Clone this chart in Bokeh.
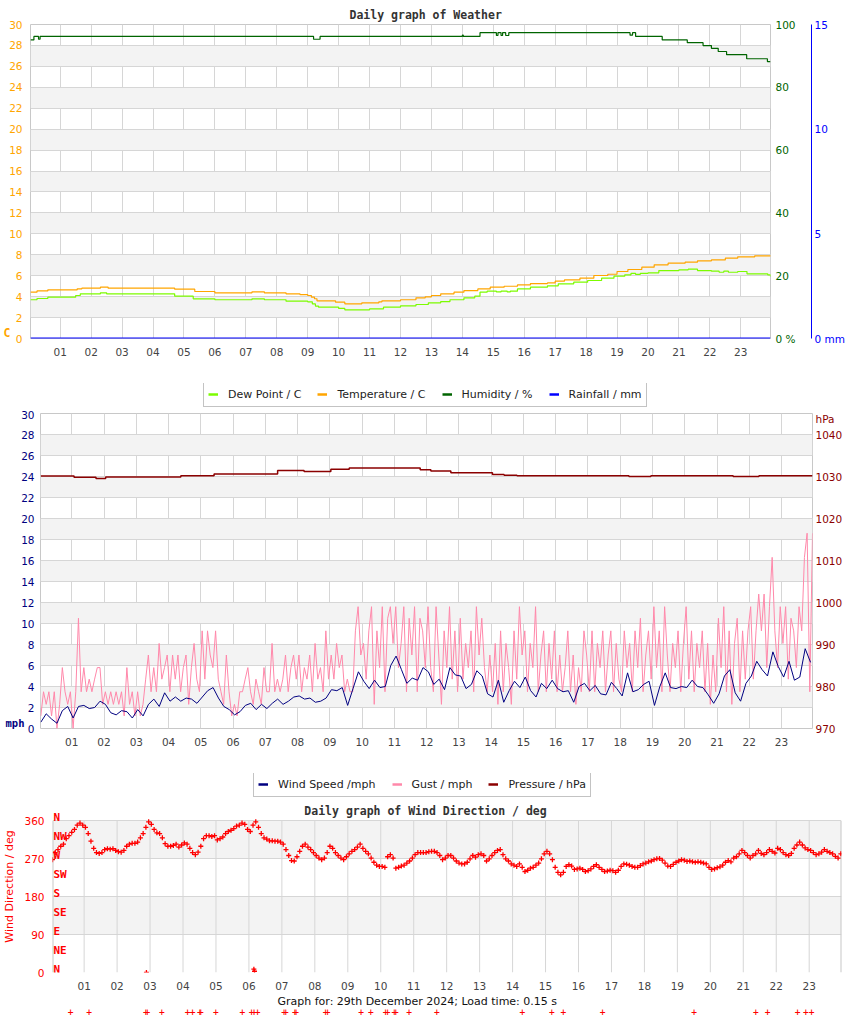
import numpy as np
from bokeh.plotting import figure
from bokeh.layouts import column, row
from bokeh.models import (LinearAxis, Range1d, FixedTicker, PrintfTickFormatter, Label, LabelSet,
                          Legend, LegendItem, ColumnDataSource, Title)
from bokeh.core.properties import value
from bokeh.embed import file_html
from bokeh.resources import INLINE

# ---------------------------------------------------------------- data
HOUR_TICKS = list(range(1, 24))
TEMP_TICKS = list(range(0, 31, 2))
HUM_TICKS = [0, 20, 40, 60, 80, 100]
RAIN_TICKS = [0, 5, 10, 15]
WIND_TICKS = list(range(0, 31, 2))
PRES_TICKS = [970, 980, 990, 1000, 1010, 1020, 1030, 1040]
PRES_UNIT_AT = 1043.7
DIR_TICKS = [0, 90, 180, 270, 360]
COMPASS_NAMES = ["N", "NE", "E", "SE", "S", "SW", "W", "NW", "N"]
COMPASS_DEG = [0, 45, 90, 135, 180, 225, 270, 315, 360]

# chart 1 (step series: hour, value)
TEMP_T = [0.04, 0.25, 0.6, 1.55, 1.7, 2.3, 2.55, 4.7, 5.35, 6.0, 7.2, 7.6, 8.3, 8.75, 9.0, 9.12,
          9.22, 9.3, 9.9, 10.2, 10.75, 11.3, 11.4, 12.0, 12.5, 12.8, 13.0, 13.3, 13.73, 14.05, 14.5,
          14.9, 15.35, 15.78, 16.2, 16.75, 17.0, 17.3, 17.8, 18.25, 18.7, 19.0, 19.35, 19.8, 20.2,
          20.65, 21.2, 21.6, 22.05, 22.5, 22.9, 23.45, 23.96]
TEMP_V = [4.43, 4.55, 4.65, 4.75, 4.81, 4.9, 4.81, 4.71, 4.49, 4.36, 4.46, 4.36, 4.27, 4.2, 4.11, 3.95,
          3.8, 3.6, 3.47, 3.31, 3.41, 3.5, 3.6, 3.7, 3.89, 3.98, 4.11, 4.27, 4.43, 4.58, 4.74,
          4.9, 4.99, 5.12, 5.25, 5.31, 5.48, 5.6, 5.76, 6.02, 6.14, 6.4, 6.59, 6.81, 7.04,
          7.2, 7.29, 7.42, 7.51, 7.67, 7.8, 7.9, 7.86]
DEW_T = [0.04, 0.25, 0.6, 1.5, 1.65, 2.3, 2.5, 4.7, 5.3, 6.0, 7.2, 7.6, 8.3, 9.0, 9.15, 9.25, 9.35,
         10.0, 10.2, 11.0, 11.45, 12.0, 12.5, 12.9, 13.3, 13.6, 14.05, 14.4, 14.57, 14.8, 15.1,
         15.25, 15.45, 15.55, 15.78, 16.2, 16.75, 17.1, 17.6, 18.05, 18.5, 18.9, 19.25, 19.45,
         19.6, 19.75, 20.0, 20.35, 21.0, 21.3, 21.6, 22.05, 22.3, 22.45, 22.6, 22.9, 23.2, 23.87, 23.96]
DEW_V = [3.7, 3.82, 3.95, 4.11, 4.27, 4.36, 4.27, 4.04, 3.79, 3.7, 3.79, 3.7, 3.57, 3.5, 3.3, 3.1, 2.99,
         2.87, 2.74, 2.83, 2.99, 3.12, 3.25, 3.41, 3.53, 3.7, 3.89, 4.04, 4.43, 4.52, 4.45,
         4.52, 4.45, 4.52, 4.74, 4.9, 5.03, 5.22, 5.38, 5.54, 5.76, 5.95, 6.08, 6.22,
         6.12, 6.22, 6.27, 6.49, 6.56, 6.62, 6.49, 6.43, 6.33, 6.43, 6.33, 6.4, 6.18, 6.08, 5.92]
HUM_T = [0.04, 0.15, 0.3, 0.35, 9.19, 9.4, 14.0, 14.03, 14.57, 15.1, 15.15, 15.25, 15.3, 15.4, 15.5,
         19.42, 19.5, 19.6, 20.46, 21.27, 21.78, 22.05, 22.27, 22.54, 23.19, 23.86, 23.96]
HUM_V = [95.1, 96.2, 95.3, 96.2, 95.3, 96.2, 96.6, 96.2, 97.4, 96.5, 97.4, 96.5, 97.4, 96.5, 97.4,
         96.6, 97.4, 96.2, 95.1, 94.2, 93.3, 92.4, 91.4, 90.4, 89.1, 88.2, 88.2]
RAIN_T = [0.04, 23.96]
RAIN_V = [0.0, 0.0]

# chart 2: wind speed every 10 min, gust every 5 min, pressure steps
WIND_V = [
    0.6, 1.4, 0.9, 0.5, 1.7, 2.1,
    1.0, 2.1, 2.2, 1.9, 2.0, 2.6,
    2.3, 1.5, 1.3, 1.7, 1.6, 1.0,
    1.8, 1.2, 2.3, 2.8, 2.1, 3.4,
    2.6, 3.0, 2.6, 2.9, 2.8, 2.4,
    3.0, 3.6, 3.9, 2.9, 2.1, 1.8,
    1.3, 1.6, 2.2, 2.4, 1.8, 2.3,
    1.9, 2.4, 2.8, 2.3, 2.6, 3.0,
    3.1, 2.8, 2.9, 2.5, 2.6, 2.9,
    3.7, 3.6, 3.9, 2.2, 3.8, 5.4,
    4.5, 3.8, 4.6, 3.9, 4.0, 6.0,
    6.9, 5.6, 4.3, 4.8, 4.6, 5.8,
    5.4, 4.2, 4.7, 3.7, 5.8, 5.1,
    5.0, 3.8, 4.2, 5.5, 5.0, 3.3,
    3.0, 4.6, 2.5, 3.6, 4.5, 3.9,
    4.9, 3.6, 3.0, 4.3, 3.8, 4.6,
    3.8, 3.5, 3.6, 2.5, 4.0, 4.3,
    3.6, 4.1, 3.3, 3.2, 4.4, 3.8,
    3.1, 5.3, 3.5, 3.7, 4.2, 4.5,
    2.2, 4.0, 5.3, 3.9, 3.8, 4.0,
    3.9, 4.6, 4.0, 3.9, 3.2, 2.4,
    3.3, 5.0, 5.6, 3.4, 2.6, 4.3,
    5.0, 6.4, 5.6, 5.0, 7.3, 5.9,
    4.9, 6.4, 4.6, 4.9, 7.6, 6.3,
]
GUST_V = [
    1.2, 3.5, 2.3, 3.5, 1.2, 3.5, 0.0, 2.3, 5.8, 3.5, 2.3, 3.5,
    0.0, 3.5, 10.5, 3.5, 5.8, 3.5, 4.7, 3.5, 4.7, 5.8, 5.8, 2.3,
    3.5, 2.3, 3.5, 2.3, 3.5, 2.3, 3.5, 1.2, 5.8, 2.3, 3.5, 1.2,
    3.5, 1.2, 2.3, 4.7, 7.0, 3.5, 5.8, 3.5, 8.1, 4.7, 5.8, 7.0,
    3.5, 7.0, 4.7, 7.0, 3.5, 5.8, 7.0, 2.3, 5.8, 8.1, 4.7, 3.5,
    9.3, 4.7, 9.3, 7.0, 5.8, 9.3, 4.7, 3.5, 2.3, 7.0, 3.5, 1.2,
    2.3, 1.2, 3.5, 3.5, 4.7, 5.8, 3.5, 2.3, 4.7, 3.5, 2.3, 5.8,
    3.5, 3.5, 8.1, 3.5, 4.7, 3.5, 4.7, 7.0, 3.5, 5.8, 7.0, 4.7,
    7.0, 3.5, 5.8, 4.7, 7.0, 3.5, 8.1, 4.7, 5.8, 3.5, 9.3, 4.7,
    7.0, 4.7, 8.1, 5.8, 7.0, 3.5, 4.7, 3.5, 3.5, 9.3, 11.6, 7.0,
    8.1, 4.7, 9.3, 11.6, 2.3, 9.3, 5.8, 11.6, 3.5, 10.5, 11.6, 8.1,
    11.6, 5.8, 8.1, 11.6, 3.5, 10.5, 7.0, 11.6, 3.5, 10.5, 9.3, 5.8,
    11.6, 5.8, 3.5, 11.6, 7.0, 2.3, 9.3, 5.8, 11.6, 4.7, 9.3, 3.5,
    10.5, 4.7, 8.1, 5.8, 9.3, 3.5, 11.6, 7.0, 10.5, 5.8, 3.5, 7.0,
    3.5, 8.1, 2.3, 9.3, 3.5, 8.1, 5.8, 2.3, 9.3, 4.7, 11.6, 7.0,
    9.3, 3.5, 8.1, 5.8, 11.6, 3.5, 7.0, 9.3, 3.5, 8.1, 4.7, 9.3,
    3.5, 7.0, 3.5, 5.8, 9.3, 3.5, 7.0, 2.3, 5.8, 3.5, 9.3, 7.0,
    3.5, 9.3, 3.5, 8.1, 5.8, 9.3, 3.5, 7.0, 9.3, 3.5, 8.1, 4.7,
    3.5, 9.3, 5.8, 8.1, 3.5, 9.3, 5.8, 10.5, 3.5, 7.0, 9.3, 4.7,
    11.6, 5.8, 9.3, 3.5, 11.6, 7.0, 3.5, 8.1, 5.8, 9.3, 3.5, 8.1,
    11.6, 4.7, 9.3, 3.5, 8.1, 5.8, 9.3, 3.5, 8.1, 2.3, 7.0, 3.5,
    10.5, 5.8, 11.6, 3.5, 9.3, 2.3, 8.1, 10.5, 3.5, 9.3, 4.7, 9.3,
    11.6, 4.7, 9.3, 12.8, 9.3, 12.8, 5.8, 11.6, 16.3, 9.3, 5.8, 11.6,
    8.1, 11.6, 4.7, 10.5, 9.3, 5.8, 11.6, 9.3, 16.3, 18.6, 3.5, 18.6,
]
PRES_T = [0.04, 1.07, 1.75, 2.05, 4.38, 5.41, 7.38, 8.2, 9.03, 9.6, 11.8, 12.13, 12.75, 14.04, 14.4,
          14.8, 18.27, 18.95, 21.5, 22.3, 23.96]
PRES_V = [1030.1, 1029.8, 1029.5, 1029.9, 1030.2, 1030.6, 1031.4, 1031.2, 1031.7, 1032.0, 1031.6,
          1031.3, 1030.9, 1030.5, 1030.3, 1030.2, 1030.0, 1030.2, 1030.0, 1030.2, 1030.2]

# chart 3: wind direction every 5 min
DIR_V = [
    268, 285, 292, 300, 305, 318, 325, 333, 340, 350, 355, 350,
    345, 330, 312, 295, 285, 283, 285, 292, 294, 293, 294, 290,
    287, 286, 290, 300, 305, 307, 307, 310, 320, 330, 345, 358,
    352, 340, 332, 330, 320, 306, 300, 300, 302, 305, 298, 303,
    308, 305, 295, 285, 280, 286, 300, 318, 325, 325, 323, 325,
    315, 318, 322, 330, 335, 338, 342, 348, 350, 355, 352, 340,
    335, 350, 358, 345, 330, 320, 317, 313, 313, 312, 312, 310,
    305, 292, 278, 266, 265, 275, 288, 300, 305, 298, 292, 285,
    278, 272, 268, 272, 285, 300, 295, 285, 278, 272, 268, 275,
    282, 288, 292, 298, 305, 295, 288, 282, 272, 262, 255, 252,
    252, 250, 275, 280, 272, 248, 250, 253, 255, 260, 265, 272,
    280, 285, 285, 285, 285, 287, 288, 288, 285, 278, 268, 272,
    278, 278, 272, 265, 260, 258, 258, 262, 270, 278, 274, 280,
    282, 278, 265, 270, 278, 285, 290, 292, 280, 270, 265, 258,
    255, 252, 258, 250, 240, 243, 248, 250, 255, 260, 270, 282,
    288, 282, 268, 250, 238, 232, 238, 252, 256, 253, 245, 246,
    248, 245, 240, 242, 246, 252, 256, 250, 245, 240, 241, 243,
    242, 238, 243, 252, 258, 257, 255, 252, 250, 250, 254, 258,
    260, 263, 265, 268, 270, 271, 267, 260, 253, 252, 257, 262,
    265, 268, 267, 264, 265, 263, 262, 263, 262, 260, 258, 250,
    245, 246, 249, 251, 255, 262, 266, 263, 272, 275, 282, 290,
    285, 278, 272, 278, 282, 290, 283, 280, 285, 292, 288, 284,
    295, 292, 285, 280, 278, 283, 295, 303, 310, 303, 296, 292,
    290, 285, 280, 282, 286, 292, 288, 285, 282, 276, 272, 282,
]
WRAP_T = [2.89, 6.15, 6.17]
WRAP_V = [0, 8, 3]
CALM_T = [0.59, 1.15, 2.87, 2.92, 3.36, 4.14, 4.29, 4.51, 4.54, 5.0, 5.8, 6.08, 6.16, 6.26, 7.07,
          7.12, 7.39, 7.43, 8.33, 8.39, 9.4, 9.7, 10.15, 10.21, 10.41, 10.46, 10.86, 11.7, 14.3,
          15.19, 15.54, 16.73, 19.51, 21.38, 21.74, 22.65, 22.9, 23.07]

WIND_T = list(np.linspace(0.04, 23.9, len(WIND_V)))
GUST_T = list(np.linspace(0.04, 23.96, len(GUST_V)))
DIR_T = list(np.linspace(0.04, 23.96, len(DIR_V)))

LEGEND1 = [("Dew Point / C", "#7cfc00"), ("Temperature / C", "#ffa500"),
           ("Humidity / %", "#006400"), ("Rainfall / mm", "#0000ff")]
LEGEND2 = [("Wind Speed /mph", "#000080"), ("Gust / mph", "#ff88aa"), ("Pressure / hPa", "#8b0000")]

# ---------------------------------------------------------------- helpers
W = 850
GRID = "#d6d6d6"
BAND = "#f3f3f3"


def style_axis(ax, color, standoff=8, size="10.5px", font="DejaVu Sans", bold=False):
    ax.major_label_text_font = font
    ax.major_label_text_font_size = size
    ax.major_label_text_color = color
    ax.major_label_text_font_style = "bold" if bold else "normal"
    ax.major_label_standoff = standoff
    ax.major_tick_in = 0
    ax.major_tick_out = 0
    ax.minor_tick_in = 0
    ax.minor_tick_out = 0
    ax.axis_line_color = None


def make_fig(h, xr, yr, left, right, top, bottom, yticks, ycolor, ystand):
    p = figure(width=W, height=h, x_range=Range1d(*xr), y_range=Range1d(*yr),
               output_backend="svg", toolbar_location=None,
               min_border_left=left, min_border_right=right,
               min_border_top=top, min_border_bottom=bottom)
    p.outline_line_color = "#c8c8c8"
    p.background_fill_color = "white"
    p.border_fill_color = "white"
    xa = p.xaxis[0]
    xa.ticker = FixedTicker(ticks=HOUR_TICKS)
    xa.formatter = PrintfTickFormatter(format="%02d")
    style_axis(xa, "#444444", standoff=9)
    p.xgrid.ticker = FixedTicker(ticks=HOUR_TICKS)
    p.xgrid.grid_line_color = GRID
    ya = p.yaxis[0]
    ya.ticker = FixedTicker(ticks=yticks)
    style_axis(ya, ycolor, standoff=ystand)
    p.ygrid.ticker = FixedTicker(ticks=yticks)
    p.ygrid.grid_line_color = GRID
    p.ygrid.band_fill_color = BAND
    p.ygrid.band_fill_alpha = 1.0
    return p


def unit_axis(p, side, at, text, color, size, standoff=0, font="DejaVu Sans Mono", bold=True):
    ax = LinearAxis(ticker=FixedTicker(ticks=[at]), formatter=PrintfTickFormatter(format=text))
    style_axis(ax, color, standoff=standoff, size=size, font=font, bold=bold)
    p.add_layout(ax, side)
    return ax


def legend_fig(h, entries, x, box_h=24):
    f = figure(width=W, height=h, x_range=Range1d(0, 1), y_range=Range1d(0, 1),
               output_backend="svg", toolbar_location=None, x_axis_type=None, y_axis_type=None,
               min_border_left=0, min_border_right=0, min_border_top=0, min_border_bottom=0)
    f.outline_line_color = None
    f.background_fill_color = "white"
    f.border_fill_color = "white"
    # legend proxies: their points lie outside this empty figure's ranges
    items = [LegendItem(label=l, renderers=[f.line([2, 3], [2, 3], line_color=c, line_width=2.5)])
             for l, c in entries]
    f.add_layout(Legend(items=items, orientation="horizontal", location=(x, h - box_h),
                        border_line_color="#888888", border_line_width=1,
                        background_fill_color="white", background_fill_alpha=1.0,
                        label_text_font="DejaVu Sans", label_text_font_size="11px",
                        label_text_color="#222222", glyph_width=10, glyph_height=16,
                        label_height=16, label_standoff=10, spacing=16, padding=4, margin=0))
    return f


# ---------------------------------------------------------------- chart 1
p1 = make_fig(383, (0.04, 23.96), (0, 30), 30, 80, 24, 45, TEMP_TICKS, "#ffa500", 8)
unit_axis(p1, "left", 0.5, "C", "#ffa500", "11.5px", standoff=-4)
p1.extra_y_ranges = {"hum": Range1d(0, 100), "rain": Range1d(0, 15)}
ax_h = LinearAxis(y_range_name="hum", ticker=FixedTicker(ticks=HUM_TICKS),
                  major_label_overrides={0: "0 %"})
style_axis(ax_h, "#006400", standoff=5)
ax_h.axis_label = " "
ax_h.axis_label_standoff = 0
ax_h.axis_label_text_font_size = "9px"
ax_h.axis_label_text_color = "white"
p1.add_layout(ax_h, "right")
ax_r = LinearAxis(y_range_name="rain", ticker=FixedTicker(ticks=RAIN_TICKS),
                  major_label_overrides={0: "0 mm"})
style_axis(ax_r, "#0000ff", standoff=3)
ax_r.axis_line_color = "#0000ff"
p1.add_layout(ax_r, "right")

p1.title.text = "Daily graph of Weather"
p1.title.align = "left"
p1.title.offset = 319
p1.title.standoff = 5
p1.title.text_font = "DejaVu Sans Mono"
p1.title.text_font_size = "11.5px"
p1.title.text_font_style = "bold"
p1.title.text_color = "#333333"

p1.step(HUM_T, HUM_V, mode="after", line_color="#006400", line_width=1.2, y_range_name="hum")
p1.step(TEMP_T, TEMP_V, mode="after", line_color="#ffa500", line_width=1.2)
p1.step(DEW_T, DEW_V, mode="after", line_color="#7cfc00", line_width=1.2)
p1.line(RAIN_T, RAIN_V, line_color="#0000ff", line_width=2, y_range_name="rain")

lf1 = legend_fig(27, LEGEND1, 203)

# ---------------------------------------------------------------- chart 2
p2 = make_fig(363, (0.03, 23.96), (0, 30), 40, 38, 3, 45, WIND_TICKS, "#000080", 6)
unit_axis(p2, "left", 0.5, "mph", "#000080", "10.5px", standoff=-6)
p2.extra_y_ranges = {"pres": Range1d(970, 1045)}
ax_p = LinearAxis(y_range_name="pres", ticker=FixedTicker(ticks=PRES_TICKS + [PRES_UNIT_AT]),
                  major_label_overrides={PRES_UNIT_AT: "hPa"})
style_axis(ax_p, "#8b0000", standoff=3)
p2.add_layout(ax_p, "right")

p2.line(GUST_T, GUST_V, line_color="#ff88aa", line_width=1)
p2.line(WIND_T, WIND_V, line_color="#000080", line_width=1)
p2.step(PRES_T, PRES_V, mode="after", line_color="#8b0000", line_width=1.5, y_range_name="pres")

lf2 = legend_fig(27, LEGEND2, 253)

# ---------------------------------------------------------------- chart 3
DIR_TOP = 408.7   # frame reaches up to the top of this figure (title drawn inside it)
p3 = make_fig(217, (0.04, 23.98), (0, DIR_TOP), 52, 9, 0, 45, DIR_TICKS, "#ff0000", 8)
p3.outline_line_color = None
p3.xgrid.visible = False
ya3 = p3.yaxis[0]
ya3.axis_label = "Wind Direction / deg"
ya3.axis_label_standoff = 5
ya3.axis_label_text_font = "DejaVu Sans"
ya3.axis_label_text_font_size = "11px"
ya3.axis_label_text_font_style = "normal"
ya3.axis_label_text_color = "#ff0000"

x0, x1 = p3.x_range.start, p3.x_range.end
p3.segment(x0=HOUR_TICKS, y0=[0] * len(HOUR_TICKS), x1=HOUR_TICKS, y1=[360] * len(HOUR_TICKS),
           line_color=GRID, line_width=1)
p3.segment(x0=[x0, x1], y0=[0, 0], x1=[x0, x1], y1=[360, 360], line_color="#c8c8c8", line_width=2)

p3.scatter(DIR_T, DIR_V, marker="cross", size=5, line_color="#ff0000", line_width=1.3)
p3.scatter(WRAP_T, WRAP_V, marker="cross", size=5, line_color="#ff0000", line_width=1.3)

comp_src = ColumnDataSource(dict(x=[x0] * len(COMPASS_DEG), y=COMPASS_DEG, t=COMPASS_NAMES))
p3.add_layout(LabelSet(x="x", y="y", text="t", source=comp_src, x_offset=1, y_offset=3,
                       text_font=value("DejaVu Sans Mono"), text_font_style="bold",
                       text_font_size="11px", text_color="#ff0000",
                       text_align="left", text_baseline="middle"))
p3.add_layout(Label(x=373, y=161.5, x_units="screen", y_units="screen",
                    text="Daily graph of Wind Direction / deg", text_color="#333333",
                    text_font="DejaVu Sans Mono", text_font_size="11.5px", text_font_style="bold",
                    text_align="center", text_baseline="middle"))

p3.add_layout(Title(text="Graph for: 29th December 2024; Load time: 0.15 s", align="left",
                    offset=225, standoff=0, text_font="DejaVu Sans", text_font_size="11px",
                    text_font_style="normal", text_color="#111111"), "below")
calm_ax = LinearAxis(ticker=FixedTicker(ticks=CALM_T), formatter=PrintfTickFormatter(format="+"))
style_axis(calm_ax, "#ff0000", standoff=0, size="8px", bold=True)
p3.add_layout(calm_ax, "below")

layout = column(row(p1), row(lf1), row(p2), row(lf2), row(p3))
open("out.html", "w").write(file_html(layout, INLINE))
